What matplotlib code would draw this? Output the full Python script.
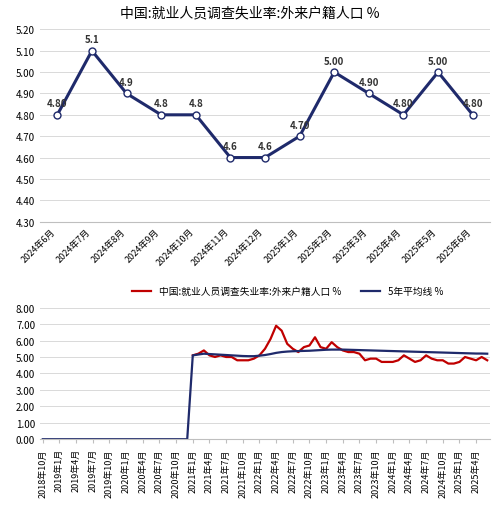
import matplotlib.pyplot as plt

plt.rcParams['font.family'] = ['Noto Sans CJK SC', 'DejaVu Sans']

NAVY = '#1f2a6b'
RED = '#c00000'

top_labels = ['2024年6月', '2024年7月', '2024年8月', '2024年9月', '2024年10月', '2024年11月',
              '2024年12月', '2025年1月', '2025年2月', '2025年3月', '2025年4月', '2025年5月', '2025年6月']
top_values = [4.8, 5.1, 4.9, 4.8, 4.8, 4.6, 4.6, 4.7, 5.0, 4.9, 4.8, 5.0, 4.8]
top_texts = ['4.80', '5.1', '4.9', '4.8', '4.8', '4.6', '4.6', '4.70', '5.00', '4.90', '4.80', '5.00', '4.80']

# monthly 2018-10 .. 2025-06
months = []
for y in range(2018, 2026):
    for m in range(1, 13):
        if (y, m) < (2018, 10) or (y, m) > (2025, 6):
            continue
        months.append(f'{y}年{m}月')

red_values = [5.1, 5.2, 5.4, 5.1, 5.0, 5.1, 5.0, 5.0, 4.8, 4.8, 4.8, 4.9,
              5.1, 5.5, 6.1, 6.9, 6.6, 5.8, 5.5, 5.3, 5.6, 5.7, 6.2, 5.6,
              5.5, 5.9, 5.6, 5.4, 5.3, 5.3, 5.2, 4.8, 4.9, 4.9, 4.7, 4.7,
              4.7, 4.8, 5.1, 4.9, 4.7, 4.8, 5.1, 4.9, 4.8, 4.8, 4.6, 4.6,
              4.7, 5.0, 4.9, 4.8, 5.0, 4.8]
blue_values = [0.0] * 27 + [
    5.10, 5.15, 5.20, 5.18, 5.16, 5.14, 5.12, 5.10, 5.08, 5.06, 5.05, 5.05,
    5.08, 5.12, 5.18, 5.25, 5.30, 5.33, 5.35, 5.36, 5.37, 5.38, 5.40, 5.42,
    5.44, 5.45, 5.45, 5.45, 5.44, 5.43, 5.42, 5.41, 5.40, 5.39, 5.38, 5.37,
    5.36, 5.35, 5.34, 5.33, 5.32, 5.31, 5.30, 5.29, 5.28, 5.27, 5.26, 5.25,
    5.24, 5.23, 5.22, 5.21, 5.21, 5.20]

fig = plt.figure(figsize=(5.0, 5.06), dpi=100)

ax1 = fig.add_axes([0.08, 0.56, 0.9, 0.38])
x = range(len(top_values))
ax1.plot(x, top_values, color=NAVY, lw=2.2, marker='o', ms=5,
         markerfacecolor='white', markeredgecolor=NAVY)
for i, (v, t) in enumerate(zip(top_values, top_texts)):
    ax1.text(i, v + 0.03, t, ha='center', va='bottom', fontsize=7, fontweight='bold', color='#333333')
ax1.set_ylim(4.3, 5.2)
ax1.set_yticks([4.3 + 0.1 * i for i in range(10)])
ax1.set_yticklabels([f'{4.3 + 0.1 * i:.2f}' for i in range(10)], fontsize=7)
ax1.set_xlim(-0.5, len(top_values) - 0.5)
ax1.set_xticks(list(x))
ax1.set_xticklabels(top_labels, rotation=45, ha='right', fontsize=6.5)
ax1.grid(axis='y', color='#d9d9d9', lw=0.7)
for s in ['top', 'right', 'left']:
    ax1.spines[s].set_visible(False)
ax1.spines['bottom'].set_color('#bfbfbf')
ax1.tick_params(length=0)
fig.text(0.5, 0.965, '中国:就业人员调查失业率:外来户籍人口 %', ha='center', fontsize=10)

ax2 = fig.add_axes([0.08, 0.13, 0.9, 0.26])
xi = range(len(months))
ax2.plot(list(xi)[27:], red_values, color=RED, lw=1.6, label='中国:就业人员调查失业率:外来户籍人口 %')
ax2.plot(list(xi), blue_values, color=NAVY, lw=1.6, label='5年平均线 %')
ax2.set_ylim(0, 8)
ax2.set_yticks(range(9))
ax2.set_yticklabels([f'{v:.2f}' for v in range(9)], fontsize=7)
ax2.set_xlim(-0.5, len(months) - 0.5)
ax2.set_xticks(list(xi)[::3])
ax2.set_xticklabels(months[::3], rotation=90, fontsize=6.5)
ax2.grid(axis='y', color='#d9d9d9', lw=0.7)
for s in ['top', 'right', 'left']:
    ax2.spines[s].set_visible(False)
ax2.spines['bottom'].set_color('#bfbfbf')
ax2.tick_params(axis='y', length=0)
ax2.tick_params(axis='x', length=3, color='#bfbfbf')
ax2.legend(loc='lower center', bbox_to_anchor=(0.55, 1.02), ncol=2, frameon=False,
           fontsize=7, handlelength=2)

fig.savefig('out.png', dpi=100)
